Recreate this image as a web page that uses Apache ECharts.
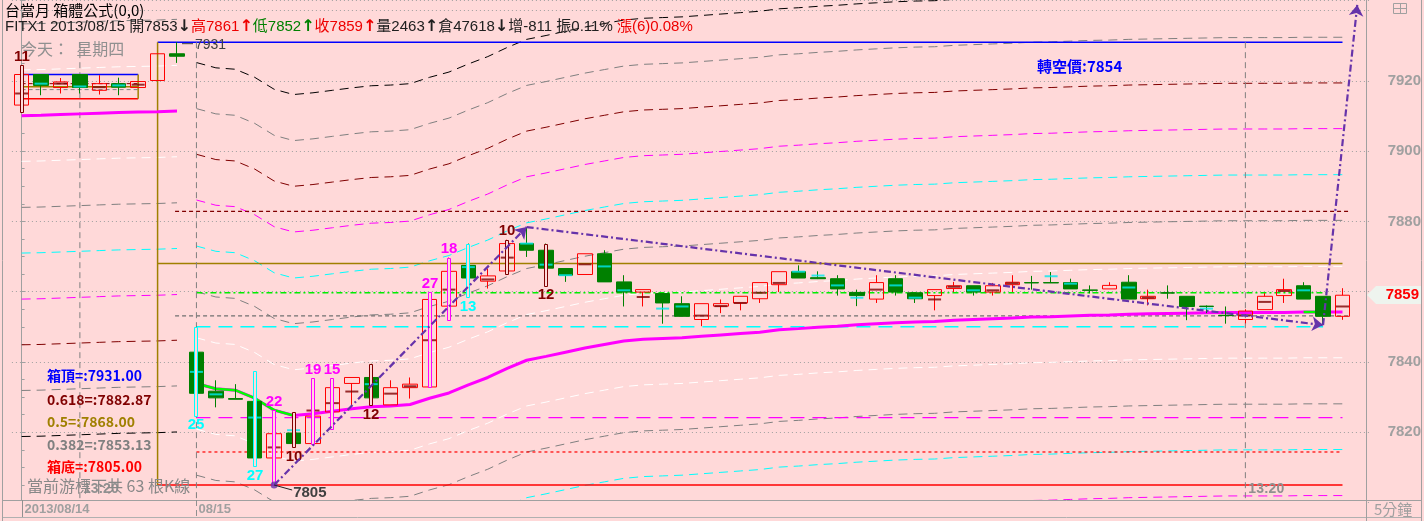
<!DOCTYPE html>
<html>
<head>
<meta charset="utf-8">
<script src="https://cdn.jsdelivr.net/npm/echarts@6.0.0/dist/echarts.min.js"></script>
<style>
html,body{margin:0;padding:0;background:#FFD9D9;overflow:hidden;}
#chart{width:1424px;height:521px;}
</style>
</head>
<body>
<div id="chart"></div>
<script>
// ---------------- data ----------------
const categories = [
 '08/14 13:05','08/14 13:10','08/14 13:15','08/14 13:20','08/14 13:25','08/14 13:30','08/14 13:35','08/14 13:40','08/14 13:45',
 '08/15 08:50','08/15 08:55',
 '08/15 09:00','08/15 09:05','08/15 09:10','08/15 09:15','08/15 09:20','08/15 09:25','08/15 09:30','08/15 09:35','08/15 09:40','08/15 09:45','08/15 09:50','08/15 09:55',
 '08/15 10:00','08/15 10:05','08/15 10:10','08/15 10:15','08/15 10:20','08/15 10:25','08/15 10:30','08/15 10:35','08/15 10:40','08/15 10:45','08/15 10:50','08/15 10:55',
 '08/15 11:00','08/15 11:05','08/15 11:10','08/15 11:15','08/15 11:20','08/15 11:25','08/15 11:30','08/15 11:35','08/15 11:40','08/15 11:45','08/15 11:50','08/15 11:55',
 '08/15 12:00','08/15 12:05','08/15 12:10','08/15 12:15','08/15 12:20','08/15 12:25','08/15 12:30','08/15 12:35','08/15 12:40','08/15 12:45','08/15 12:50','08/15 12:55',
 '08/15 13:00','08/15 13:05','08/15 13:10','08/15 13:15','08/15 13:20','08/15 13:25','08/15 13:30','08/15 13:35','08/15 13:40','08/15 13:45',
 ''
];
// [open, close, low, high]
const candles = [
 [7913.1,7921.8,7911.1,7924.4],[7921.8,7918.7,7915.9,7921.8],[7918.1,7919.7,7916.4,7920.8],[7921.8,7918.1,7916.4,7921.8],
 [7917.3,7919.2,7916.1,7921.6],[7919.2,7918.2,7915.9,7920.9],[7918.1,7919.8,7918.1,7919.8],[7920.1,7927.7,7920.1,7927.7],
 [7927.7,7927.0,7925.1,7931.0],
 [7842.8,7831.1,7824.8,7850.0],[7831.7,7829.8,7827.1,7834.8],[7829.6,7829.4,7829.4,7833.7],[7828.8,7812.7,7810.3,7837.4],
 [7812.7,7819.6,7805.0,7826.3],[7819.8,7816.8,7815.6,7825.7],[7816.8,7824.6,7816.5,7835.4],[7825.8,7832.7,7820.8,7835.4],
 [7833.9,7835.6,7827.7,7835.6],[7835.6,7829.8,7827.7,7839.5],[7827.8,7832.7,7827.8,7834.8],[7832.7,7833.7,7829.6,7835.6],
 [7832.9,7857.8,7832.9,7859.9],[7855.9,7865.8,7852.1,7869.7],[7867.5,7863.9,7858.5,7873.7],[7863.0,7864.5,7860.9,7866.6],
 [7865.9,7873.7,7865.0,7874.8],[7873.7,7871.8,7869.9,7878.4],[7871.8,7866.7,7861.8,7873.7],[7866.6,7864.7,7862.8,7866.6],
 [7864.9,7870.8,7864.9,7870.8],[7870.8,7862.8,7862.8,7871.8],[7862.8,7859.9,7855.8,7864.7],[7859.9,7860.6,7855.8,7860.6],
 [7859.5,7856.8,7850.9,7859.5],[7856.6,7853.0,7853.0,7858.7],[7852.1,7856.6,7850.2,7856.6],[7855.9,7856.6,7853.9,7857.8],
 [7856.8,7858.7,7854.7,7858.7],[7858.0,7862.6,7856.8,7862.6],[7862.0,7865.7,7859.9,7865.7],[7865.7,7863.9,7863.9,7867.5],
 [7864.0,7863.7,7863.6,7865.8],[7863.7,7860.8,7858.9,7864.7],[7859.8,7858.9,7855.9,7860.6],[7857.9,7862.6,7856.8,7864.7],
 [7863.7,7859.9,7858.9,7864.7],[7859.7,7858.0,7856.8,7859.7],[7858.9,7860.6,7854.7,7860.6],[7860.9,7861.7,7859.9,7862.8],
 [7861.7,7859.9,7858.9,7861.7],[7859.9,7861.7,7858.9,7862.5],[7862.0,7862.7,7859.9,7864.7],[7862.6,7862.5,7860.6,7864.5],
 [7862.6,7862.5,7862.5,7865.6],[7862.6,7860.8,7860.8,7863.7],[7860.5,7860.4,7859.5,7861.8],[7860.8,7861.8,7860.8,7862.7],
 [7862.7,7857.9,7857.9,7864.7],[7858.0,7858.7,7856.1,7860.6],[7859.7,7859.6,7858.0,7861.8],[7858.7,7855.8,7851.9,7858.7],
 [7855.9,7855.8,7853.9,7856.1],[7853.3,7853.2,7850.9,7855.8],[7852.1,7854.5,7851.0,7855.0],[7854.9,7858.7,7854.9,7859.6],
 [7858.9,7860.6,7856.8,7863.7],[7861.7,7857.9,7857.9,7862.7],[7858.7,7853.0,7850.5,7858.7],[7853.0,7859.0,7852.0,7861.0]
];
// horizontal tick inside each bar
const barMid = [
 7916.4,7919.2,7919.2,7918.4,7918.2,7918.7,7918.9,null,null,
 7837.2,7830.8,null,7824.2,7815.7,7820.6,7826.2,7828.3,7831.6,7833.7,7831.0,7833.1,7846.2,7860.6,7867.0,7863.5,7869.7,7873.7,
 7867.7,7864.7,7867.8,7867.2,7860.4,7858.5,7855.2,7855.8,7853.2,7855.9,7856.8,7859.7,7862.5,7865.7,7864.6,7861.8,7858.3,
 7860.6,7861.8,7858.3,7857.8,7861.4,7860.4,7860.4,7862.4,null,7864.4,7862.3,null,null,7861.2,7858.3,null,null,7855.2,null,
 7853.3,7857.1,7860.2,7860.4,null,7855.8
];
// intraday average line, one array per day
const ma0814 = [7910.1,7910.2,7910.4,7910.6,7910.8,7911.0,7911.1,7911.2,7911.4];
const ma0815 = [7833.9,7832.4,7832.0,7829.7,7826.3,7824.8,7825.3,7826.0,7826.7,7827.3,7827.5,7827.9,7829.7,7831.2,7833.5,
 7835.6,7838.2,7840.5,7841.6,7842.8,7844.0,7845.0,7846.0,7846.5,7846.7,7846.9,7847.3,7847.7,7848.1,7848.5,7849.2,7849.5,
 7849.9,7850.2,7850.6,7850.9,7851.2,7851.4,7851.5,7851.9,7852.1,7852.3,7852.5,7852.8,7852.9,7853.1,7853.3,7853.4,7853.6,
 7853.7,7853.8,7853.9,7854.0,7854.1,7854.1,7854.1,7854.1,7854.2,7854.2,7854.2];
const maFallingRanges = [[9,14],[66,67]];
// envelope distances (points) above / below the average line
const bandOffsets = [13.0, 26.1, 39.1, 52.2, 65.2, 78.2, 91.3];
// box formula levels
const boxTop = 7931, box618 = 7882.87, box500 = 7868, box382 = 7853.13, boxBottom = 7805;
const miniBoxTop = 7921.8, miniBox618 = 7919.2, miniBox500 = 7918.35, miniBox382 = 7917.5, miniBoxBottom = 7914.9;
const firstBarHigh = 7850, greenLevel = 7859.7, magentaLevel = 7824.2, redLevel = 7814.4;
const turnPrice = 7854;
const zigzag = [[13,7805],[26,7878.4],[67,7850.5],[68.76,7941.6]];
const markerBars   = [0,9,12,13,14,15,16,18,21,22,23,25,27];
const markerKinds  = ['r','c','c','m','r','m','m','r','m','m','c','r','r'];
const markerCounts = ['11','25','27','22','10','19','15','12','27','18','13','10','12'];
const cursorBars = [3, 63];
const dayStartBars = [0, 9];
const dateLabels = ['2013/08/14', '08/15'];
const headerOpen = 7853, headerHigh = 7861, headerLow = 7852, headerClose = 7859;
const headerVol = 2463, headerOI = 47618, headerOIChg = -811, headerAmp = '0.11%', headerUp = '(6)0.08%';

// ---------------- chart ----------------
const BG = '#FFD9D9';
const NC = categories.length;
const kindColor = {c:'#00FFFF', m:'#FF00FF', r:'#800000'};
const bandColors = ['#FFFFFF','#808080','#00FFFF','#FF00FF','#800000','#808080','#000000'];
const CJK = '"Noto Sans CJK TC","Noto Sans CJK SC",sans-serif';
const LAT = '"Liberation Sans",Arial,"Noto Sans CJK TC",sans-serif';

function dayArray(start, vals, off) {
  const a = new Array(NC).fill(null);
  vals.forEach((v, j) => { a[start + j] = +(v + off).toFixed(2); });
  return a;
}
function seg(x1, y1, x2, y2, color, type, width, z) {
  return {type:'line', xAxisIndex:1, yAxisIndex:0, data:[[x1,y1],[x2,y2]], symbol:'none', silent:true,
          lineStyle:{color, type, width}, z: z || 2, animation:false};
}

const series = [];
// envelope bands
bandOffsets.forEach((off, k) => {
  [1, -1].forEach(s => {
    [[0, ma0814], [9, ma0815]].forEach(([st, vals]) => {
      series.push({type:'line', xAxisIndex:0, yAxisIndex:0, data: dayArray(st, vals, s * off), symbol:'none',
        silent:true, z:1, lineStyle:{color: bandColors[k], width:1, type:[9,6]}});
    });
  });
});
// mini box (08/14)
series.push(seg(0, miniBoxTop, 6, miniBoxTop, '#0000FF', 'solid', 1.5));
series.push(seg(0, miniBox618, 6, miniBox618, '#800000', [4,3], 1));
series.push(seg(0, miniBox500, 6, miniBox500, '#A08000', 'solid', 1.5));
series.push(seg(0, miniBox382, 6, miniBox382, '#808080', [4,3], 1));
series.push(seg(0, miniBoxBottom, 6, miniBoxBottom, '#FF0000', 'solid', 1.5));
series.push(seg(6, miniBoxTop, 6, miniBoxBottom, '#A08000', 'solid', 1.5));
// main box
series.push(seg(7, boxTop, 68, boxTop, '#0000FF', 'solid', 1.5));
series.push(seg(7.9, box618, 68.35, box618, '#800000', [4,3], 1.2));
series.push(seg(7, box500, 68, box500, '#A08000', 'solid', 1.5));
series.push(seg(7.9, box382, 68.35, box382, '#707070', [4,3], 1.2));
series.push(seg(7, boxBottom, 68, boxBottom, '#FF0000', 'solid', 1.5));
series.push(seg(7, boxTop, 7, boxBottom, '#A08000', 'solid', 1.5));
// other reference levels
series.push(seg(9, firstBarHigh, 67, firstBarHigh, '#00FFFF', [14,8], 1.5));
series.push(seg(9, greenLevel, 67.2, greenLevel, '#00EE00', [6,3,2,3], 1.5));
series.push(seg(9, magentaLevel, 68, magentaLevel, '#FF00FF', [14,8], 1.2));
series.push(seg(9, redLevel, 68, redLevel, '#FF0000', [3,3], 1.2));
// cursor / day separator vertical lines
cursorBars.concat([9]).forEach(b => series.push(seg(b, boxTop, b, 7800, '#808080', [6,4], 1)));

// average line
series.push({type:'line', xAxisIndex:0, yAxisIndex:0, data: dayArray(0, ma0814, 0), symbol:'none', silent:true, z:3,
  lineStyle:{color:'#FF00FF', width:3}});
series.push({type:'line', xAxisIndex:0, yAxisIndex:0, data: dayArray(9, ma0815, 0), symbol:'none', silent:true, z:3,
  lineStyle:{color:'#FF00FF', width:3}});
maFallingRanges.forEach(([a, b]) => {
  const arr = new Array(NC).fill(null);
  for (let i = a; i <= b; i++) arr[i] = ma0815[i - 9];
  series.push({type:'line', xAxisIndex:0, yAxisIndex:0, data: arr, symbol:'none', silent:true, z:3,
    lineStyle:{color:'#00FF00', width:2.5}});
});

// candles
series.push({type:'candlestick', xAxisIndex:0, yAxisIndex:0, data: candles, barWidth:15, z:4, silent:true,
  itemStyle:{color:'transparent', color0:'#008000', borderColor:'#FF0000', borderColor0:'#008000', borderWidth:1}});
// ticks inside bars
series.push({type:'scatter', xAxisIndex:0, yAxisIndex:0, z:5, silent:true, symbol:'rect', symbolSize:[13,2],
  data: barMid.map((v, i) => v == null ? null : {value:[i, v],
    itemStyle:{color: candles[i][1] < candles[i][0] ? '#00E8F0' : '#800000'}}).filter(d => d)});
// count markers
series.push({type:'custom', xAxisIndex:0, yAxisIndex:0, z:6, silent:true, clip:false,
  data: markerBars.map((b, j) => [b, candles[b][3], candles[b][2], j]),
  renderItem(params, api) {
    const idx = api.value(0), j = api.value(3);
    const top = api.coord([idx, api.value(1)]), bot = api.coord([idx, api.value(2)]);
    const col = kindColor[markerKinds[j]];
    const up = candles[idx][1] >= candles[idx][0];
    const x = Math.round(top[0]);
    return {type:'group', children:[
      {type:'rect', shape:{x: x - 1.5, y: Math.round(top[1]) + 0.5, width:3, height: Math.round(bot[1] - top[1])},
       style:{fill: BG, stroke: col, lineWidth:1}},
      {type:'text', style:{text: markerCounts[j], x: x, y: up ? top[1] - 1 : bot[1] + 2, align:'center',
       verticalAlign: up ? 'bottom' : 'top', fill: col, font: 'bold 15px ' + LAT}}
    ]};
  }
});
// swing zig-zag
series.push({type:'lines', coordinateSystem:'cartesian2d', xAxisIndex:1, yAxisIndex:0, z:7, silent:true,
  symbol:['none','arrow'], symbolSize:11,
  lineStyle:{color:'#6633AA', width:2.2, type:[7,3,2,3], opacity:1, curveness:0},
  data: zigzag.slice(1).map((p, i) => ({coords:[zigzag[i], p]}))});
series.push({type:'scatter', xAxisIndex:1, yAxisIndex:0, z:7, silent:true, symbolSize:7,
  itemStyle:{color:'#6633AA'}, data:[zigzag[0]]});

const chart = echarts.init(document.getElementById('chart'), null, {renderer:'canvas'});
const option = {
  backgroundColor: BG,
  animation: false,
  grid: {left: 11.9, top: 0, width: 1360.1, height: 502.6, containLabel: false},
  xAxis: [
    {type:'category', data: categories, boundaryGap:true, show:false},
    {type:'value', min:-0.5, max: NC - 0.5, show:false}
  ],
  yAxis: [{
    type:'value', position:'right', offset:-6, min:7800, max:7943, interval:20,
    axisLine:{show:true, lineStyle:{color:'#A0A0A0', width:1}},
    axisTick:{show:true, length:4, lineStyle:{color:'#A0A0A0'}},
    minorTick:{show:true, splitNumber:4, length:3, lineStyle:{color:'#A0A0A0'}},
    splitLine:{show:true, lineStyle:{color:'#A0A0A0', type:[1,3], width:1}},
    axisLabel:{margin:22, color:'#A0A0A0', fontWeight:'bold', fontSize:15, fontFamily:'"Liberation Sans",Arial',
      formatter: v => (v < 7810 || v > 7930) ? '' : String(v)}
  }],
  series
};
chart.setOption(option);

// ---------------- texts & frame (positioned through the chart's scales) ----------------
const P = (x, y) => chart.convertToPixel({xAxisIndex:1, yAxisIndex:0}, [x, y]);
const g = [];
const txt = (x, y, text, fill, font, extra) => g.push(Object.assign({type:'text', x, y, z:100,
  style:Object.assign({text, fill, font}, extra || {})}));
// date strip cover & frame
g.push({type:'rect', z:90, shape:{x:0, y:500, width:1366, height:21}, style:{fill:BG}});
g.push({type:'line', z:95, shape:{x1:3, y1:500.5, x2:1421, y2:500.5}, style:{stroke:'#A0A0A0', lineWidth:1}});
g.push({type:'line', z:95, shape:{x1:3, y1:517.5, x2:1421, y2:517.5}, style:{stroke:'#B0B0B0', lineWidth:1}});
g.push({type:'line', z:95, shape:{x1:2.5, y1:0, x2:2.5, y2:521}, style:{stroke:'#A0A0A0', lineWidth:1}});
g.push({type:'line', z:95, shape:{x1:1366.5, y1:0, x2:1366.5, y2:521}, style:{stroke:'#A0A0A0', lineWidth:1}});
g.push({type:'line', z:95, shape:{x1:1421.5, y1:0, x2:1421.5, y2:521}, style:{stroke:'#A0A0A0', lineWidth:1}});
dayStartBars.forEach((b, i) => {
  const x = Math.round(P(b, 7800)[0]) + 0.5;
  g.push({type:'line', z:95, shape:{x1:x, y1:500, x2:x, y2:517}, style:{stroke:'#909090', lineWidth:1, lineDash: i ? [6,4] : null}});
  txt(x + 2, 503, dateLabels[i], '#A0A0A0', 'bold 13px ' + LAT);
});
txt(1374, 502, '5分鐘', '#A0A0A0', '15px ' + CJK);
// window icon
g.push({type:'rect', z:100, shape:{x:1393.5, y:3.5, width:13, height:10}, style:{fill:'none', stroke:'#A0A0A0', lineWidth:1}});
g.push({type:'line', z:100, shape:{x1:1400.5, y1:3.5, x2:1400.5, y2:13.5}, style:{stroke:'#A0A0A0', lineWidth:1}});
g.push({type:'line', z:100, shape:{x1:1393.5, y1:8.5, x2:1406.5, y2:8.5}, style:{stroke:'#A0A0A0', lineWidth:1}});

// header
txt(5, 3, '台當月 箱體公式(0,0)', '#000000', '15px ' + CJK);
g.push({type:'text', x:5, y:19, z:100, style:{
  text: '{k|FITX1 2013/08/15 開' + headerOpen + '}{ka|↓}{r|高' + headerHigh + '}{ra|↑}{g|低' + headerLow + '}{ga|↑}{r|收' + headerClose +
        '}{ra|↑}{k|量' + headerVol + '}{ka|↑}{k|倉' + headerOI + '}{ka|↓}{k|增' + headerOIChg + ' 振' + headerAmp + ' }{r|漲' + headerUp + '}',
  font: '15px ' + LAT,
  rich:{
    k:{fill:'#202020', font:'15px ' + LAT}, r:{fill:'#EE0000', font:'15px ' + LAT}, g:{fill:'#008000', font:'15px ' + LAT},
    ka:{fill:'#202020', font:'bold 16px "DejaVu Sans"'}, ra:{fill:'#EE0000', font:'bold 16px "DejaVu Sans"'}, ga:{fill:'#008000', font:'bold 16px "DejaVu Sans"'}
  }}});
txt(21, 41, '今天：  星期四', '#909090', '16px ' + CJK);
// box top value near first bars
const pTop = P(8, boxTop);
g.push({type:'line', z:100, shape:{x1:pTop[0] + 5, y1:pTop[1] + 1.5, x2:pTop[0] + 16, y2:pTop[1] + 1.5}, style:{stroke:'#404040', lineWidth:1}});
txt(pTop[0] + 18, pTop[1] - 4, String(boxTop), '#404040', '14px ' + LAT);
// turn price
txt(1037, 59, '轉空價:' + turnPrice, '#0000FF', 'bold 15px ' + CJK);
// box labels
txt(47, 369, '箱頂=:' + boxTop.toFixed(2), '#0000FF', 'bold 14px ' + CJK);
txt(47, 393, '0.618=:' + box618.toFixed(2), '#800000', 'bold 14px ' + CJK);
txt(47, 415, '0.5=:' + box500.toFixed(2), '#A08000', 'bold 14px ' + CJK);
txt(47, 438, '0.382=:' + box382.toFixed(2), '#808080', 'bold 14px ' + CJK);
txt(47, 460, '箱底=:' + boxBottom.toFixed(2), '#FF0000', 'bold 14px ' + CJK);
// cursor time labels
cursorBars.forEach(b => {
  const p = P(b, 7800);
  txt(p[0] + 3, 482, '13:20', '#909090', 'bold 14px ' + LAT);
});
txt(27, 478, '當前游標下共 63 根K線', '#888888', '16px ' + CJK);
// low label
const pLow = P(zigzag[0][0], zigzag[0][1]);
g.push({type:'line', z:100, shape:{x1:pLow[0], y1:pLow[1], x2:pLow[0] + 18, y2:pLow[1] + 5}, style:{stroke:'#202020', lineWidth:1}});
txt(pLow[0] + 19, pLow[1] + 0, String(zigzag[0][1]), '#404040', 'bold 15px ' + LAT);
// last price tag
const last = candles[candles.length - 1][1];
const yl = Math.round(P(0, last)[1]);
g.push({type:'polygon', z:100, shape:{points:[[1367, yl],[1376, yl - 9],[1421, yl - 9],[1421, yl + 9],[1376, yl + 9]]}, style:{fill:'#EEF4EE'}});
txt(1419, yl, String(last), '#FF0000', 'bold 15px ' + LAT, {align:'right', verticalAlign:'middle'});

chart.setOption({graphic: {elements: g}});
</script>
</body>
</html>
